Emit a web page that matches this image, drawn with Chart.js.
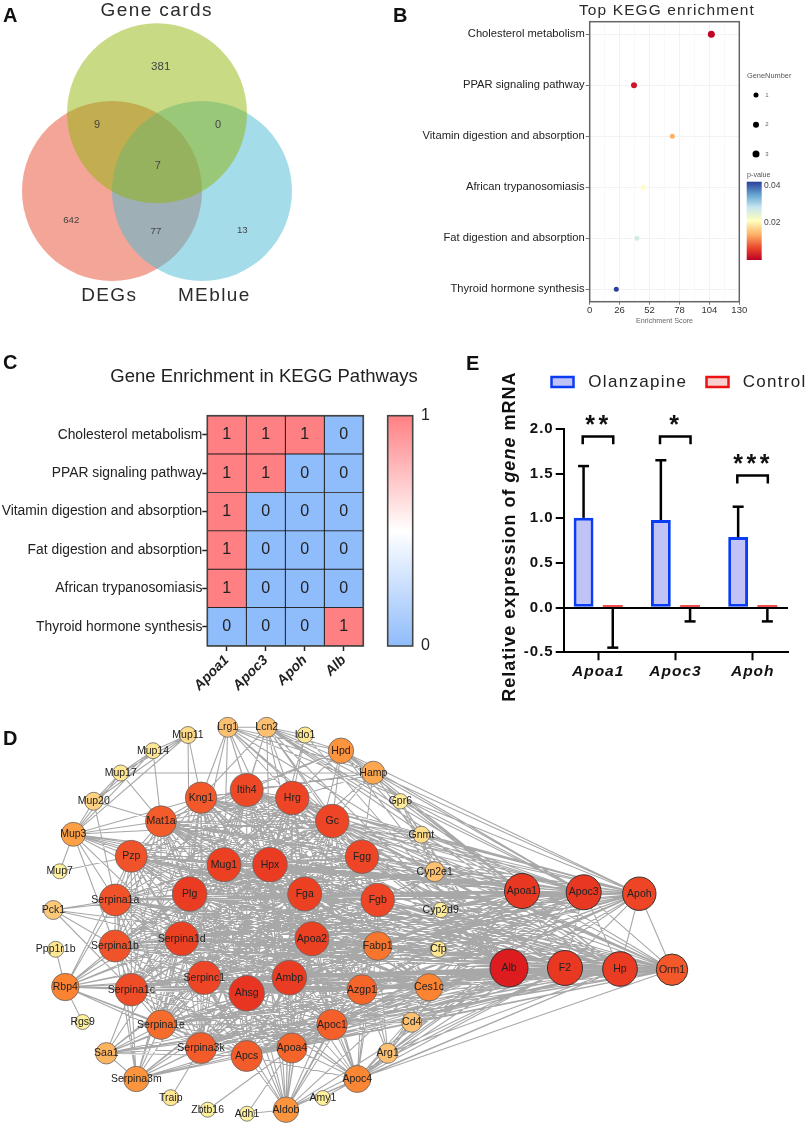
<!DOCTYPE html>
<html>
<head>
<meta charset="utf-8">
<style>
  html, body { margin: 0; padding: 0; background: #fff; }
  body { position: relative; width: 809px; height: 1132px; overflow: hidden; }
  canvas { position: absolute; }
  .letter { position: absolute; font: bold 20px "Liberation Sans", Arial, sans-serif; color: #111; line-height: 20px; z-index: 5; }
</style>
<script src="https://cdn.jsdelivr.net/npm/chart.js@4"></script>
</head>
<body>
<div class="letter" style="left:3px;top:5px">A</div>
<div class="letter" style="left:393px;top:5px">B</div>
<div class="letter" style="left:3px;top:352px">C</div>
<div class="letter" style="left:3px;top:728px">D</div>
<div class="letter" style="left:466px;top:353px">E</div>
<script>
// panel A
const vennNames = ['DEGs', 'MEblue', 'Gene cards'];
const vennX = [112, 202, 157];
const vennY = [191, 191, 113.3];
const vennRadius = [90, 90, 90];
const vennFills = ['rgba(231,75,49,.5)', 'rgba(73,185,213,.5)', 'rgba(145,181,9,.5)'];
const vennCounts = ['381', '9', '0', '7', '642', '77', '13'];

// panel B
const keggPathways = ['Cholesterol metabolism', 'PPAR signaling pathway', 'Vitamin digestion and absorption',
  'African trypanosomiasis', 'Fat digestion and absorption', 'Thyroid hormone synthesis'];
const keggScore = [105.7, 38.5, 71.8, 46.6, 41.1, 23.1];
const keggGeneNumber = [3, 2, 1, 1, 1, 1];
const keggPValue = [0.0005, 0.002, 0.013, 0.0205, 0.0255, 0.04];
const keggTicks = [0, 26, 52, 78, 104, 130];

// panel C
const heatPathways = ['Cholesterol metabolism', 'PPAR signaling pathway', 'Vitamin digestion and absorption',
  'Fat digestion and absorption', 'African trypanosomiasis', 'Thyroid hormone synthesis'];
const heatGenes = ['Apoa1', 'Apoc3', 'Apoh', 'Alb'];
const heatApoa1 = [1, 1, 1, 1, 1, 0];
const heatApoc3 = [1, 1, 0, 0, 0, 0];
const heatApoh = [1, 0, 0, 0, 0, 0];
const heatAlb = [0, 0, 0, 0, 0, 1];

// panel E
const mrnaGenes = ['Apoa1', 'Apoc3', 'Apoh'];
const olanzapineMean = [1.005, 0.98, 0.79];
const olanzapineErr = [0.58, 0.67, 0.34];
const controlMean = [0.012, 0.026, 0.026];
const controlErr = [0.46, 0.18, 0.18];
const mrnaStars = ['**', '*', '***'];
const bracketTop = [1.917, 1.917, 1.48];
const bracketFoot = [1.83, 1.83, 1.39];

// panel D, network layout
const nodeNames = ['Mup11','Mup14','Mup17','Mup20','Mup3','Mup7','Pck1','Lrg1','Kng1','Itih4','Mat1a','Pzp','Mug1','Plg','Serpina1a',
  'Ppp1r1b','Serpina1b','Serpina1d','Rbp4','Serpina1c','Serpinc1','Ahsg','Rgs9','Serpina1e','Serpina3k','Apcs','Saa1','Serpina3m','Traip','Zbtb16','Adh1',
  'Lcn2','Ido1','Hpd','Hamp','Hrg','Gpr6','Gc','Gnmt','Hpx','Fgg','Cyp2e1','Fga','Fgb','Cyp2d9',
  'Apoa2','Fabp1','Cfp','Alb','Ambp','Azgp1','Ces1c','Apoc1','Cd4','Apoa4','Arg1','Apoc4','Amy1','Aldob',
  'Apoa1','Apoc3','Apoh','F2','Hp','Orm1'];
const nodeX = [188,153,120.7,93.7,73.3,59.7,53.3,227.7,201,246.7,161,131.3,224,189.7,115.3,
  55.7,115,181.7,65.3,131.3,204.3,246.7,82.7,161,201,246.7,106.3,136.3,170.7,207.7,247,
  266.7,305,341,373.3,292.3,400.3,332.3,421.3,270,362,434.7,304.7,377.7,440.7,
  312,377.7,438.3,509,289.3,362,429,332,411.7,292,387.7,357.3,323,286,
  522,583.7,639.3,565,620,672];
const nodeY = [735,750.7,773,801.3,834.3,871.3,910,727.3,797.7,790,821.3,856.3,864.7,894,900,
  949.3,946,938.7,987,989.7,977.7,993.3,1022,1024.7,1048,1056,1053.3,1079,1097.7,1109.7,1113.7,
  727.3,735,750.7,772.7,798,801.3,821,834.7,864.7,856.7,871.7,894,900,910,
  938.7,946,949.3,968,977.7,989.7,987.3,1024.7,1022.3,1048,1053.3,1079,1098,1109.7,
  891,892.3,893.7,968,969,969.7];
const nodeSize = [8.5,8,8,9,12,7.5,9.5,10,15.7,16.5,15.5,16,17,17.3,16,
  8,16,17,13.7,16.3,16.7,17.7,7.5,14.7,15.5,15.5,10.7,12.7,8,7.5,7.5,
  10,8,12.7,11.5,16.7,7.7,16.7,8.5,17.3,16.7,10,17,16.7,7.7,
  17,14.3,8,19,17.3,15,13.7,15.3,10,15,10,13.5,7.5,12.7,
  17.5,17.5,16.7,17.5,17.3,15.7];
// tightly linked proteins, every pair has an edge
const coreGenes = ['Kng1','Itih4','Hrg','Gc','Mat1a','Pzp','Mug1','Hpx','Fgg','Plg','Fga','Fgb','Serpina1a','Serpina1b','Serpina1d',
  'Apoa2','Fabp1','Serpina1c','Serpinc1','Ahsg','Ambp','Azgp1','Serpina1e','Serpina3k','Apcs','Apoa4','Apoc1','Ces1c',
  'Alb','F2','Hp','Orm1','Apoa1','Apoc3','Apoh'];
// first name links to all the others on the line
const outerLinks = [
  'Mup11 Mup14 Mup17 Mup20 Mup3 Kng1 Plg',
  'Mup14 Mup17 Mup20 Mup3 Mat1a',
  'Mup17 Mup20 Mup3 Mat1a Hamp',
  'Mup20 Mup3 Mat1a Serpina1a',
  'Mup3 Mat1a Pzp Kng1 Mug1 Plg Serpina1a Serpina1b Serpina1d Hpx Alb Apoa1 Gc Fga Serpina1c Mup7',
  'Mup7 Pzp',
  'Pck1 Serpina1a Plg Serpina1b Serpina1d Alb Serpina1c',
  'Ppp1r1b Rbp4',
  'Rgs9 Rbp4',
  'Rbp4 Serpina1b Serpina1a Serpina1d Serpina1c Serpinc1 Ahsg Ambp Alb Apoa1 Serpina1e Plg Fga Apoa2 Pzp Serpina3k Apcs Azgp1 Hpx',
  'Saa1 Serpina1c Serpina1e Serpina3k Apcs Alb Ambp Hp Serpina1d Apoa1 Orm1 Apoc1 Fga Serpinc1',
  'Serpina3m Serpina1a Serpina1b Serpina1c Serpina1d Serpina1e Serpina3k Serpinc1 Ahsg Alb Apoa1 Apcs Plg Apoa2 Ambp Saa1 Hp F2',
  'Traip Serpina3k',
  'Zbtb16 Apoa4',
  'Adh1 Apoa4 Aldob',
  'Aldob Apoa4 Apcs Ahsg Ambp Apoc1 Alb Apoa2 Apoc4 Azgp1 Fga Hrg Hpx Apoa1 Fgb Fabp1 Gc Plg Serpinc1 Mug1 Itih4 Hp F2',
  'Amy1 Apoc4',
  'Apoc4 Apoa4 Apcs Apoc1 Ahsg Ambp Azgp1 Alb Apoa2 Hp Apoa1 Serpinc1 Fabp1 Orm1 Arg1 Cd4 Apoc3 Apoh F2 Plg Fga Fgb Hpx',
  'Arg1 Alb Ces1c Fabp1 Apoa1 Cd4 Azgp1 Hp Gc F2 Apoc3',
  'Cd4 Alb Apoa1 Ces1c Hp F2 Orm1 Apoc1 Fgg',
  'Cfp Alb Apoa2 Hp Serpinc1 Fga Apoa1 Plg',
  'Cyp2d9 Apoa1 Alb Fgg Hp',
  'Cyp2e1 Gnmt Alb Apoa1 Apoc3 Hp Fgb Mug1 Fga Plg Hpx Ambp',
  'Gnmt Gpr6 Alb Apoa1 Gc Mat1a Apoc3 Hpx Itih4 Apoh Fgg',
  'Gpr6 Hamp Apoa1 Alb Cyp2e1 Apoc3',
  'Hamp Hpd Gc Apoh Apoc3 Lrg1 Hrg Alb Lcn2 Kng1 Apoa1 Itih4 Hp Fgg Hpx',
  'Hpd Hrg Gc Apoh Lcn2 Alb Apoa1 Lrg1 Itih4 Fga Mat1a Hp Gnmt Apoc3',
  'Ido1 Lcn2 Hrg Alb Hpx',
  'Lcn2 Lrg1 Hrg Itih4 Gc Kng1 Alb Hp Orm1 Apoa1 Fgg Mug1 Fga Apoc3 Hpx',
  'Lrg1 Itih4 Kng1 Hrg Gc Mug1 Hpx Alb Fga Plg Apoh Hp'
];

const SANS = '"Liberation Sans", Arial, sans-serif';

function putText(ctx, str, x, y, o) {
  ctx.save();
  ctx.font = o.font;
  ctx.fillStyle = o.color || '#222';
  ctx.textAlign = o.align || 'center';
  ctx.textBaseline = 'middle';
  ctx.letterSpacing = (o.space || 0) + 'px';
  ctx.fillText(str, x, y);
  ctx.restore();
}

function hexToRgb(h) {
  return [parseInt(h.slice(1, 3), 16), parseInt(h.slice(3, 5), 16), parseInt(h.slice(5, 7), 16)];
}

function ramp(stops, v) {
  for (let i = 1; i < stops.length; i++) {
    if (v <= stops[i][0]) {
      const t = Math.max(0, (v - stops[i - 1][0]) / (stops[i][0] - stops[i - 1][0]));
      const a = hexToRgb(stops[i - 1][1]);
      const b = hexToRgb(stops[i][1]);
      return `rgb(${a.map((c, k) => Math.round(c + (b[k] - c) * t)).join(',')})`;
    }
  }
  return stops[stops.length - 1][1];
}

const pStops = [[0, '#bd0026'], [0.006, '#e8452c'], [0.013, '#fdb066'], [0.02, '#ffffbf'], [0.027, '#c6e5ef'], [0.033, '#6aa9d2'], [0.04, '#2a3f9c']];
const nodeStops = [[7.5, '#fff09c'], [8.5, '#fedb88'], [10, '#fdc070'], [12, '#fd9f45'], [13.7, '#fb8332'], [15, '#f5652a'], [16, '#f0522a'], [17, '#ec4023'], [17.7, '#e83522'], [19, '#dc1c1e']];

// makes a canvas at page position, drawing helpers below use page coordinates
function makeCanvas(left, top, w, h) {
  const c = document.createElement('canvas');
  c.width = w;
  c.height = h;
  c.style.left = left + 'px';
  c.style.top = top + 'px';
  c.style.width = w + 'px';
  c.style.height = h + 'px';
  document.body.appendChild(c);
  return c;
}

function pagePlugin(left, top, draw) {
  return {
    id: 'page' + left + top,
    afterDraw(chart) {
      const ctx = chart.ctx;
      ctx.save();
      ctx.translate(-left, -top);
      draw(ctx, chart);
      ctx.restore();
    }
  };
}

const baseOptions = {
  responsive: false,
  animation: false,
  events: [],
  plugins: { legend: { display: false }, tooltip: { enabled: false } }
};

// ---------- A
new Chart(makeCanvas(0, 0, 400, 330), {
  type: 'bubble',
  data: {
    datasets: [{
      data: vennX.map((x, i) => ({ x: x, y: vennY[i], r: vennRadius[i] })),
      backgroundColor: vennFills,
      borderWidth: 0
    }]
  },
  options: {
    ...baseOptions,
    clip: false,
    layout: { autoPadding: false },
    scales: {
      x: { display: false, min: 0, max: 400 },
      y: { display: false, min: 0, max: 330, reverse: true }
    }
  },
  plugins: [pagePlugin(0, 0, ctx => {
    const countX = [160.7, 97, 218, 157.7, 71.3, 156, 242.3];
    const countY = [66.7, 125.3, 125.3, 165.7, 220.7, 231.3, 230];
    const countFont = [11.5, 11, 11, 11, 9.7, 9.7, 9.7];
    vennCounts.forEach((t, i) => putText(ctx, t, countX[i], countY[i], { font: countFont[i] + 'px ' + SANS, color: '#444' }));
    putText(ctx, vennNames[2], 156.7, 10.7, { font: '19px ' + SANS, color: '#2b2b2b', space: 1.4 });
    putText(ctx, vennNames[0], 109.3, 296, { font: '19px ' + SANS, color: '#2b2b2b', space: 1.4 });
    putText(ctx, vennNames[1], 214.3, 296, { font: '19px ' + SANS, color: '#2b2b2b', space: 1.4 });
  })]
});

// ---------- B
new Chart(makeCanvas(400, 0, 409, 330), {
  type: 'scatter',
  data: {
    datasets: [{
      data: keggScore.map((s, i) => ({ x: s, y: i })),
      pointRadius: keggGeneNumber.map(n => 2 + n * 0.5),
      pointBackgroundColor: keggPValue.map(p => ramp(pStops, p)),
      pointBorderWidth: 0
    }]
  },
  options: {
    ...baseOptions,
    layout: { autoPadding: false, padding: { left: 0, top: 21.7, right: 69.7, bottom: 0 } },
    scales: {
      x: {
        min: 0, max: 130,
        afterFit(s) { s.height = 28.3; },
        afterBuildTicks(s) {
          s.ticks = keggTicks.flatMap(v => v < 130 ? [{ value: v }, { value: v + 13 }] : [{ value: v }]);
        },
        grid: {
          color: ctx => ctx.tick.value % 26 === 0 ? '#f2f2f2' : '#f9f9f9',
          tickColor: ctx => ctx.tick.value % 26 === 0 ? '#777' : 'transparent',
          tickLength: 3
        },
        ticks: {
          autoSkip: false, maxRotation: 0, padding: 0,
          font: { family: SANS, size: 9.5 }, color: '#333',
          callback: v => v % 26 === 0 ? String(v) : ''
        }
      },
      y: {
        min: -0.245, max: 5.245, reverse: true,
        afterFit(s) { s.width = 189.7; },
        afterBuildTicks(s) { s.ticks = keggPathways.map((p, i) => ({ value: i })); },
        grid: { color: '#f2f2f2', tickColor: '#777', tickLength: 4 },
        ticks: {
          autoSkip: false, padding: 1,
          font: { family: SANS, size: 11.2 }, color: '#222',
          callback: v => keggPathways[v]
        }
      }
    }
  },
  plugins: [pagePlugin(400, 0, (ctx, chart) => {
    const a = chart.chartArea;
    ctx.strokeStyle = '#666';
    ctx.lineWidth = 1.5;
    ctx.strokeRect(a.left + 400, a.top, a.right - a.left, a.bottom - a.top);
    putText(ctx, 'Top KEGG enrichment', 667, 10.7, { font: '15.5px ' + SANS, color: '#2b2b2b', space: 1.1 });
    putText(ctx, 'Enrichment Score', 664.5, 320.7, { font: '7.2px ' + SANS, color: '#666' });
    putText(ctx, 'GeneNumber', 747, 76.3, { font: '7.4px ' + SANS, color: '#555', align: 'left' });
    const sizeY = [95, 124.7, 154];
    sizeY.forEach((y, i) => {
      ctx.fillStyle = '#000';
      ctx.beginPath();
      ctx.arc(756, y, 2.5 + i * 0.5, 0, Math.PI * 2);
      ctx.fill();
      putText(ctx, String(i + 1), 767, y, { font: '6px ' + SANS, color: '#666' });
    });
    putText(ctx, 'p-value', 747, 174.6, { font: '7.2px ' + SANS, color: '#555', align: 'left' });
    const g = ctx.createLinearGradient(0, 260, 0, 181.7);
    pStops.forEach(s => g.addColorStop(s[0] / 0.04, s[1]));
    ctx.fillStyle = g;
    ctx.fillRect(746.7, 181.7, 15, 78.3);
    putText(ctx, '0.04', 764, 186, { font: '8.5px ' + SANS, color: '#444', align: 'left' });
    putText(ctx, '0.02', 764, 223, { font: '8.5px ' + SANS, color: '#444', align: 'left' });
  })]
});

// ---------- C
const heatRows = [heatApoa1, heatApoc3, heatApoh, heatAlb];
const HEAT_RED = '#ff8083';
const HEAT_BLUE = '#8fbcfb';

new Chart(makeCanvas(0, 340, 450, 370), {
  type: 'bar',
  data: {
    labels: heatPathways,
    datasets: heatRows.map(col => ({
      data: col.map(() => 1),
      backgroundColor: col.map(v => v ? HEAT_RED : HEAT_BLUE),
      borderColor: '#1a1a1a',
      borderWidth: 0.8,
      borderSkipped: false,
      barPercentage: 1,
      categoryPercentage: 1
    }))
  },
  options: {
    ...baseOptions,
    indexAxis: 'y',
    layout: { autoPadding: false, padding: { left: 0, top: 75.7, right: 86.7, bottom: 0 } },
    scales: {
      x: {
        stacked: true, min: 0, max: 4,
        afterFit(s) { s.height = 64; },
        afterBuildTicks(s) { s.ticks = heatGenes.map((g, i) => ({ value: i + 0.5 })); },
        grid: { drawOnChartArea: false, tickColor: '#222', tickWidth: 1.5, tickLength: 5 },
        border: { display: false },
        ticks: {
          autoSkip: false, minRotation: 45, maxRotation: 45, padding: 1,
          font: { family: SANS, size: 14, weight: 'bold', style: 'italic' }, color: '#222',
          callback: v => heatGenes[Math.floor(v)]
        }
      },
      y: {
        stacked: true,
        afterFit(s) { s.width = 207.3; },
        grid: { drawOnChartArea: false, offset: false, tickColor: '#222', tickWidth: 1.5, tickLength: 5 },
        border: { display: false },
        ticks: { autoSkip: false, padding: 0, font: { family: SANS, size: 13.85 }, color: '#222' }
      }
    }
  },
  plugins: [pagePlugin(0, 340, (ctx, chart) => {
    const x = chart.scales.x;
    const y = chart.scales.y;
    heatRows.forEach((col, c) => {
      col.forEach((v, r) => {
        putText(ctx, String(v), x.getPixelForValue(c + 0.5), y.getPixelForValue(r) + 340, { font: '16px ' + SANS, color: '#222' });
      });
    });
    const a = chart.chartArea;
    ctx.strokeStyle = '#444';
    ctx.lineWidth = 1.6;
    ctx.strokeRect(a.left, a.top + 340, a.right - a.left, a.bottom - a.top);
    const g = ctx.createLinearGradient(0, 415.7, 0, 646);
    g.addColorStop(0, HEAT_RED);
    g.addColorStop(0.5, '#ffffff');
    g.addColorStop(1, HEAT_BLUE);
    ctx.fillStyle = g;
    ctx.fillRect(387.7, 415.7, 25, 230.3);
    ctx.strokeRect(387.7, 415.7, 25, 230.3);
    putText(ctx, '1', 425.5, 415.5, { font: '16px ' + SANS, color: '#222' });
    putText(ctx, '0', 425.5, 646, { font: '16px ' + SANS, color: '#222' });
    putText(ctx, 'Gene Enrichment in KEGG Pathways', 264, 377, { font: '18.5px ' + SANS, color: '#222' });
  })]
});

// ---------- E
new Chart(makeCanvas(450, 340, 359, 370), {
  type: 'bar',
  data: {
    datasets: [
      {
        data: olanzapineMean.map((v, i) => ({ x: i, y: v })),
        backgroundColor: '#c1c3f7', borderColor: '#0a3cf5', borderWidth: 3, borderSkipped: false,
        categoryPercentage: 0.756, barPercentage: 0.68
      },
      {
        // bars this low are nothing but their outline in the reference
        data: controlMean.map((v, i) => ({ x: i, y: v })),
        backgroundColor: '#ee1111', minBarLength: 2.5,
        categoryPercentage: 0.756, barPercentage: 0.68
      }
    ]
  },
  options: {
    ...baseOptions,
    layout: { autoPadding: false, padding: { left: 0, top: 89, right: 21, bottom: 0 } },
    scales: {
      x: {
        type: 'linear', offset: false, min: -0.446, max: 2.456,
        afterFit(s) { s.height = 57.7; },
        afterBuildTicks(s) { s.ticks = mrnaGenes.map((g, i) => ({ value: i })); },
        grid: { drawOnChartArea: false, offset: false, tickColor: '#000', tickWidth: 2, tickLength: 8 },
        border: { color: '#000', width: 2 },
        ticks: {
          autoSkip: false, maxRotation: 0, padding: 2,
          font: { family: SANS, size: 15.5, weight: 'bold', style: 'italic' }, color: '#111',
          callback: v => mrnaGenes[v]
        }
      },
      y: {
        min: -0.5, max: 2,
        afterFit(s) { s.width = 113.7; },
        grid: {
          color: ctx => ctx.tick.value === 0 ? '#000' : 'transparent',
          lineWidth: 2, tickColor: '#000', tickWidth: 2, tickLength: 8
        },
        border: { color: '#000', width: 2 },
        ticks: {
          stepSize: 0.5, padding: 2,
          font: { family: SANS, size: 15, weight: 'bold' }, color: '#111',
          callback: v => v.toFixed(1)
        }
      }
    }
  },
  plugins: [
    { id: 'spacing', beforeDraw(chart) { chart.ctx.letterSpacing = '1px'; } },
    pagePlugin(450, 340, (ctx, chart) => {
      const xs = chart.scales.x;
      const ys = chart.scales.y;
      const px = v => xs.getPixelForValue(v) + 450;
      const py = v => ys.getPixelForValue(v) + 340;
      ctx.strokeStyle = '#000';
      ctx.lineWidth = 2.5;
      const segment = (x1, y1, x2, y2) => {
        ctx.beginPath();
        ctx.moveTo(x1, y1);
        ctx.lineTo(x2, y2);
        ctx.stroke();
      };
      const barsA = chart.getDatasetMeta(0).data;
      const barsB = chart.getDatasetMeta(1).data;
      olanzapineMean.forEach((m, i) => {
        const xa = barsA[i].x + 450;
        segment(xa, py(m), xa, py(m + olanzapineErr[i]));
        segment(xa - 5.5, py(m + olanzapineErr[i]), xa + 5.5, py(m + olanzapineErr[i]));
        const xb = barsB[i].x + 450;
        segment(xb, py(0), xb, py(controlMean[i] - controlErr[i]));
        segment(xb - 5.5, py(controlMean[i] - controlErr[i]), xb + 5.5, py(controlMean[i] - controlErr[i]));
      });
      mrnaStars.forEach((s, i) => {
        const x1 = px(i - 0.2);
        const x2 = px(i + 0.195);
        ctx.beginPath();
        ctx.moveTo(x1, py(bracketFoot[i]));
        ctx.lineTo(x1, py(bracketTop[i]));
        ctx.lineTo(x2, py(bracketTop[i]));
        ctx.lineTo(x2, py(bracketFoot[i]));
        ctx.stroke();
        putText(ctx, s, (x1 + x2) / 2 + 0.5, py(bracketTop[i]) - 10, { font: 'bold 25px ' + SANS, color: '#111', space: 3.5 });
      });
      // legend
      ctx.lineWidth = 2.5;
      ctx.strokeStyle = '#0a3cf5';
      ctx.fillStyle = '#c1c3f7';
      ctx.fillRect(551.5, 377, 22, 10);
      ctx.strokeRect(551.5, 377, 22, 10);
      ctx.strokeStyle = '#ee1111';
      ctx.fillStyle = '#f8d0d0';
      ctx.fillRect(706.5, 377, 22, 10);
      ctx.strokeRect(706.5, 377, 22, 10);
      putText(ctx, 'Olanzapine', 588.3, 382, { font: '17px ' + SANS, color: '#222', align: 'left', space: 1.3 });
      putText(ctx, 'Control', 742.7, 382, { font: '17px ' + SANS, color: '#222', align: 'left', space: 1.3 });
      // y title, "gene" is italic so it goes in three parts
      const parts = [['Relative expression of ', 'bold 18px '], ['gene', 'italic bold 18px '], [' mRNA', 'bold 18px ']];
      ctx.save();
      ctx.translate(510, 701.7);
      ctx.rotate(-Math.PI / 2);
      ctx.letterSpacing = '1px';
      ctx.fillStyle = '#111';
      ctx.textAlign = 'left';
      ctx.textBaseline = 'middle';
      let run = 0;
      parts.forEach(p => {
        ctx.font = p[1] + SANS;
        ctx.fillText(p[0], run, 0);
        run += ctx.measureText(p[0]).width;
      });
      ctx.restore();
    })
  ]
});

// ---------- D
const edgePoints = [];
function addEdge(a, b) {
  const i = nodeNames.indexOf(a);
  const j = nodeNames.indexOf(b);
  edgePoints.push({ x: nodeX[i], y: nodeY[i] }, { x: nodeX[j], y: nodeY[j] }, { x: null, y: null });
}
coreGenes.forEach((a, i) => coreGenes.slice(i + 1).forEach(b => addEdge(a, b)));
outerLinks.forEach(line => {
  const names = line.split(' ');
  names.slice(1).forEach(b => addEdge(names[0], b));
});

new Chart(makeCanvas(0, 710, 809, 422), {
  type: 'bubble',
  data: {
    datasets: [
      {
        type: 'scatter',
        data: edgePoints,
        showLine: true,
        spanGaps: false,
        pointRadius: 0,
        borderColor: '#a8a8a8',
        borderWidth: 1.1,
        order: 2
      },
      {
        data: nodeNames.map((n, i) => ({ x: nodeX[i], y: nodeY[i], r: nodeSize[i] })),
        backgroundColor: nodeSize.map(r => ramp(nodeStops, r)),
        borderColor: nodeX.map(x => x > 490 ? '#333' : '#666'),
        borderWidth: nodeX.map(x => x > 490 ? 1 : 0.8),
        order: 1
      }
    ]
  },
  options: {
    ...baseOptions,
    clip: false,
    layout: { autoPadding: false },
    scales: {
      x: { type: 'linear', display: false, min: 0, max: 809 },
      y: { type: 'linear', display: false, min: 710, max: 1132, reverse: true }
    }
  },
  plugins: [pagePlugin(0, 710, (ctx, chart) => {
    nodeNames.forEach((n, i) => {
      putText(ctx, n, chart.scales.x.getPixelForValue(nodeX[i]), chart.scales.y.getPixelForValue(nodeY[i]) + 710, { font: '10.5px ' + SANS, color: '#222' });
    });
  })]
});
</script>
</body>
</html>
